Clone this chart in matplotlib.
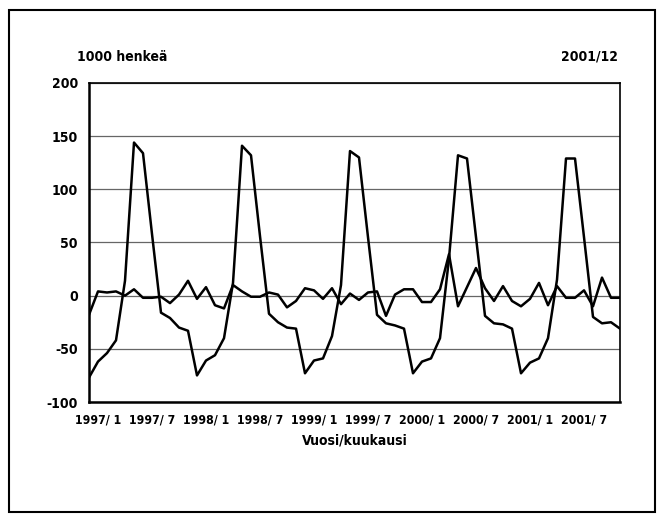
import matplotlib.pyplot as plt
import matplotlib.transforms as mtransforms
from matplotlib.patches import Rectangle
import numpy as np

# monthly values 1997/1 - 2001/12, 1000 persons
big = [-77, -62, -54, -42, 14, 144, 134, 58, -16, -21, -30, -33,
       -75, -61, -56, -40, 12, 141, 132, 56, -17, -25, -30, -31,
       -73, -61, -59, -38, 10, 136, 130, 55, -18, -26, -28, -31,
       -73, -62, -59, -40, 35, 132, 129, 55, -19, -26, -27, -31,
       -73, -63, -59, -40, 15, 129, 129, 55, -20, -26, -25, -31]
small = [-18, 4, 3, 4, 0, 6, -2, -2, -1, -7, 1, 14,
         -3, 8, -9, -12, 10, 4, -1, -1, 3, 1, -11, -5,
         7, 5, -3, 7, -8, 2, -4, 3, 4, -19, 1, 6,
         6, -6, -6, 6, 39, -10, 8, 26, 7, -5, 9, -5,
         -10, -3, 12, -9, 9, -2, -2, 5, -10, 17, -2, -2]
tick_labels = ["1997/ 1", "1997/ 7", "1998/ 1", "1998/ 7", "1999/ 1",
               "1999/ 7", "2000/ 1", "2000/ 7", "2001/ 1", "2001/ 7"]

plt.rcParams['axes.unicode_minus'] = False
font = ['DejaVu Sans']
txt = dict(family=font, fontweight='bold', fontstretch='condensed', fontsize=10)

fig = plt.figure(figsize=(6.62, 5.22), dpi=100)
fig.patches.append(Rectangle((9 / 662, 10 / 522), 646 / 662, 502 / 522,
                             transform=fig.transFigure, fill=False,
                             edgecolor='black', linewidth=1.5))

ax = fig.add_axes([89 / 662, 120 / 522, 531 / 662, 319 / 522])
x = np.arange(len(big))
ax.plot(x, big, color='black', linewidth=1.8)
ax.plot(x, small, color='black', linewidth=1.8)

ax.set_xlim(0, len(big) - 1)
ax.set_ylim(-100, 200)
ax.set_yticks(np.arange(-100, 201, 50))
ax.yaxis.grid(True, color='#666666', linewidth=0.9)
ax.set_axisbelow(True)
ax.set_xticks(x[::6])
ax.set_xticklabels(tick_labels)
ax.tick_params(axis='both', length=0, pad=8)
for lab in ax.get_xticklabels():
    lab.set_transform(lab.get_transform() +
                      mtransforms.ScaledTranslation(0.09, 0, fig.dpi_scale_trans))
for lab in ax.get_xticklabels() + ax.get_yticklabels():
    lab.set(**txt)
for lab in ax.get_xticklabels():
    lab.set_fontsize(8.8)
ax.spines['left'].set_linewidth(1.8)
ax.spines['bottom'].set_linewidth(1.8)
ax.spines['top'].set_linewidth(1.2)
ax.spines['right'].set_linewidth(1.2)

fig.text(77 / 662, 1 - 57 / 522, "1000 henkeä", va='center', ha='left', **txt)
fig.text(618 / 662, 1 - 57 / 522, "2001/12", va='center', ha='right', **txt)
fig.text(355 / 662, 1 - 440 / 522, "Vuosi/kuukausi", va='center', ha='center', **txt)

fig.savefig("out.png", dpi=100)
